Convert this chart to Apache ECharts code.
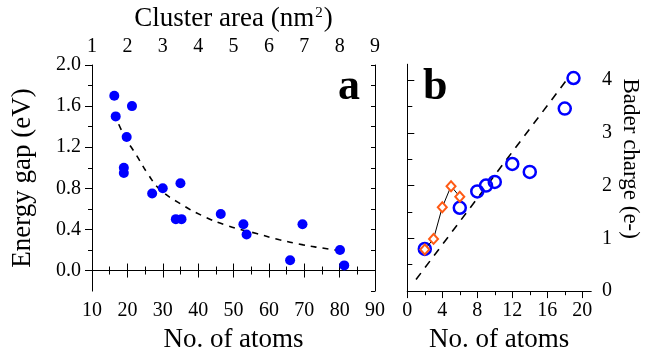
<!DOCTYPE html>
<html><head><meta charset="utf-8">
<script src="https://cdn.jsdelivr.net/npm/echarts@6/dist/echarts.min.js"></script>
<style>html,body{margin:0;padding:0;background:#fff}#c{width:649px;height:358px}</style>
</head><body><div id="c"></div>
<script>
// Panel a data
const aAtoms = [16.3,16.7,21.3,19.8,19.0,19.0,27.0,30.0,35.0,33.7,35.3,46.4,52.8,53.7,66.0,69.5,80.1,81.3];
const aGap   = [1.70,1.50,1.60,1.30,1.00,0.95,0.75,0.80,0.85,0.50,0.50,0.55,0.45,0.35,0.10,0.45,0.20,0.05];
const aFitAtoms = [16.3,19.0,22.6,26.0,29.2,35.0,41.4,48.0,56.5,63.0,69.7,75.0,80.6];
const aFitGap   = [1.53,1.32,1.12,0.93,0.79,0.65,0.53,0.44,0.36,0.30,0.25,0.22,0.19];
// Panel b data
const bCircAtoms  = [2,6,8,9,10,12,14,18,19];
const bCircCharge = [0.80,1.58,1.89,2.00,2.07,2.41,2.26,3.46,4.04];
const bDiaAtoms   = [2,3,4,5,6];
const bDiaCharge  = [0.79,0.99,1.59,1.99,1.79];
const bFitAtoms   = [1,18.2];
const bFitCharge  = [0.22,4.0];
// tick values
const aYMajor = [0,0.4,0.8,1.2,1.6,2.0];
const aYMinor = [0.2,0.6,1.0,1.4,1.8];
const aYAll   = [-0.2,0,0.2,0.4,0.6,0.8,1.0,1.2,1.4,1.6,1.8,2.0];
const bXMajor = [0,4,8,12,16,20];
const bXMinor = [2,6,10,14,18];
const bXAll   = [0,2,4,6,8,10,12,14,16,18,20];
const bYMajor = [0,1,2,3,4];
const bYMinor = [0.5,1.5,2.5,3.5];
const bYAll   = [0,0.5,1,1.5,2,2.5,3,3.5,4];

const FF = 'Liberation Serif';
const lab = {color:'#000', fontFamily:FF, fontSize:20};
const nm = {color:'#000', fontFamily:FF, fontSize:27};
const line = {show:true, lineStyle:{color:'#000', width:1}};
const noLine = {show:false};
const pair = (xs, ys) => xs.map((x,i)=>[x, ys[i]]);

const chart = echarts.init(document.getElementById('c'));
chart.setOption({
  animation:false,
  backgroundColor:'#fff',
  grid:[
    {left:92, top:65, width:283, height:229.3},
    {left:407.3, top:64.3, width:183.7, height:229}
  ],
  xAxis:[
    {gridIndex:0, type:'value', position:'bottom', min:10, max:90, interval:10,
     axisLine:line, splitLine:{show:false},
     axisTick:{show:true, inside:false, length:7, lineStyle:{color:'#000'}},
     minorTick:{show:true, splitNumber:2, length:4, lineStyle:{color:'#000'}},
     axisLabel:Object.assign({margin:10}, lab),
     name:'No. of atoms', nameLocation:'middle', nameGap:30, nameTextStyle:nm},
    {gridIndex:0, type:'value', position:'top', min:1, max:9, interval:1,
     axisLine:line, splitLine:{show:false},
     axisTick:{show:true, inside:false, length:7, lineStyle:{color:'#000'}},
     minorTick:{show:true, splitNumber:2, length:4, lineStyle:{color:'#000'}},
     axisLabel:Object.assign({margin:8}, lab),
     name:'{t|Cluster area (nm}{s|2}{t|)}', nameLocation:'middle', nameGap:30,
     nameTextStyle:{rich:{t:{fontFamily:FF, fontSize:27, color:'#000'}, s:{fontFamily:FF, fontSize:15, color:'#000', verticalAlign:'top', padding:[0,1,12,1]}}}},
    {gridIndex:1, type:'value', position:'bottom', min:0, max:21,
     axisLine:line, splitLine:{show:false},
     axisTick:{show:true, inside:false, length:7, customValues:bXMajor, lineStyle:{color:'#000'}},
     axisLabel:Object.assign({margin:10, customValues:bXMajor}, lab),
     name:'No. of atoms', nameLocation:'middle', nameGap:30, nameTextStyle:nm},
    {gridIndex:1, type:'value', position:'bottom', min:0, max:21,
     axisLine:noLine, splitLine:{show:false}, axisLabel:{show:false},
     axisTick:{show:true, inside:false, length:4, customValues:bXMinor, lineStyle:{color:'#000'}}},
    {gridIndex:1, type:'value', position:'top', min:0, max:21,
     axisLine:line, splitLine:{show:false}, axisLabel:{show:false},
     axisTick:{show:true, inside:true, length:4, customValues:bXAll, lineStyle:{color:'#000'}}}
  ],
  yAxis:[
    {gridIndex:0, type:'value', position:'left', min:-0.2, max:2.0, interval:0.2,
     axisLine:line, splitLine:{show:false},
     axisTick:{show:true, inside:false, length:7, customValues:aYMajor, lineStyle:{color:'#000'}},
     axisLabel:Object.assign({margin:11, customValues:aYMajor, formatter:v=>v.toFixed(1)}, lab),
     name:'Energy gap (eV)', nameLocation:'middle', nameGap:56, nameTextStyle:nm},
    {gridIndex:0, type:'value', position:'left', min:-0.2, max:2.0, interval:0.2,
     axisLine:noLine, splitLine:{show:false}, axisLabel:{show:false},
     axisTick:{show:true, inside:false, length:4, customValues:aYMinor, lineStyle:{color:'#000'}}},
    {gridIndex:0, type:'value', position:'right', min:-0.2, max:2.0, interval:0.2,
     axisLine:line, splitLine:{show:false}, axisLabel:{show:false},
     axisTick:{show:true, inside:true, length:4, customValues:aYAll, lineStyle:{color:'#000'}}},
    {gridIndex:1, type:'value', position:'right', min:0, max:4.3,
     axisLine:line, splitLine:{show:false},
     axisTick:{show:true, inside:false, length:7, customValues:bYMajor, lineStyle:{color:'#000'}},
     axisLabel:Object.assign({margin:11, customValues:bYMajor}, lab),
     name:'Bader charge (e-)', nameLocation:'middle', nameGap:28, nameRotate:-90,
     nameTextStyle:{color:'#000', fontFamily:FF, fontSize:23, padding:[0,38,0,0]}},
    {gridIndex:1, type:'value', position:'right', min:0, max:4.3,
     axisLine:noLine, splitLine:{show:false}, axisLabel:{show:false},
     axisTick:{show:true, inside:false, length:4, customValues:bYMinor, lineStyle:{color:'#000'}}},
    {gridIndex:1, type:'value', position:'left', min:0, max:4.3,
     axisLine:line, splitLine:{show:false}, axisLabel:{show:false},
     axisTick:{show:true, inside:true, length:5, customValues:bYAll, lineStyle:{color:'#000'}}}
  ],
  graphic:[
    {type:'text', left:338, top:66, style:{text:'a', fontFamily:FF, fontWeight:'bold', fontSize:44, fill:'#000'}},
    {type:'text', left:423, top:66, style:{text:'b', fontFamily:FF, fontWeight:'bold', fontSize:44, fill:'#000'}}
  ],
  series:[
    {type:'line', xAxisIndex:0, yAxisIndex:0, data:pair(aFitAtoms,aFitGap), smooth:true, showSymbol:false, symbol:'none',
     lineStyle:{color:'#000', width:1.6, type:[6,6]}, z:1},
    {type:'scatter', xAxisIndex:0, yAxisIndex:0, data:pair(aAtoms,aGap), symbol:'circle', symbolSize:10,
     itemStyle:{color:'#0000ff', opacity:1}, z:3},
    {type:'line', xAxisIndex:2, yAxisIndex:3, data:pair(bFitAtoms,bFitCharge), showSymbol:false, symbol:'none',
     lineStyle:{color:'#000', width:1.6, type:[8,7]}, z:1},
    {type:'scatter', xAxisIndex:2, yAxisIndex:3, data:pair(bCircAtoms,bCircCharge), symbol:'circle', symbolSize:12,
     itemStyle:{color:'rgba(0,0,0,0)', borderColor:'#0000ff', borderWidth:2.5, opacity:1}, z:3},
    {type:'line', xAxisIndex:2, yAxisIndex:3, data:pair(bDiaAtoms,bDiaCharge), symbol:'diamond', symbolSize:[9,10], showSymbol:true,
     itemStyle:{color:'#fff', borderColor:'#ff5a14', borderWidth:2}, lineStyle:{color:'#000', width:1}, z:4}
  ]
});
</script></body></html>
